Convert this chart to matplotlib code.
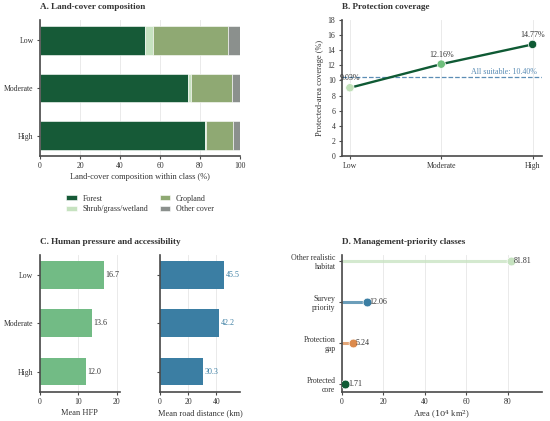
import matplotlib
matplotlib.use("Agg")
import matplotlib.pyplot as plt
import numpy as np

plt.rcParams['font.family'] = ['Liberation Serif', 'DejaVu Serif']
plt.rcParams['text.color'] = '#333333'
plt.rcParams['axes.labelcolor'] = '#333333'
plt.rcParams['xtick.color'] = '#333333'
plt.rcParams['ytick.color'] = '#333333'
plt.rcParams['mathtext.fontset'] = 'dejavuserif'

# ---- data ----
classes = ["Low", "Moderate", "High"]
cover_names = ["Forest", "Shrub/grass/wetland", "Cropland", "Other cover"]
forest = [52.5, 73.9, 82.3]
shrub = [3.9, 1.6, 0.8]
cropland = [37.4, 20.7, 13.4]
other = [6.2, 3.8, 3.5]

coverage = [9.03, 12.16, 14.77]
all_suitable = 10.40

hfp = [16.7, 13.6, 12.0]
road = [45.5, 42.2, 30.3]

mgmt_classes = ["Protected\ncore", "Protection\ngap", "Survey\npriority", "Other realistic\nhabitat"]
mgmt_area = [1.71, 5.24, 12.06, 81.81]
mgmt_labels = ["1.71", "5.24", "12.06", "81.81"]

# ---- styles ----
cover_colors = ["#165a37", "#c6e2c0", "#8fa973", "#8b908d"]
cov_colors = ["#c0e0b8", "#6fbf7c", "#0f5a34"]
hfp_color = "#72bb85"
road_color = "#3b7ea3"
mgmt_colors = ["#0f5a34", "#dc8a4c", "#3b7ea3", "#c6e2c0"]
spine_c = "#4a4a4a"
grid_c = "#e6e6e6"

W, H = 550, 421
fig = plt.figure(figsize=(5.5, 4.21), dpi=100)

def ax_px(l, t, r, b):
    return fig.add_axes([l / W, 1 - b / H, (r - l) / W, (b - t) / H])

def style(ax):
    for s in ["top", "right"]:
        ax.spines[s].set_visible(False)
    for s in ["left", "bottom"]:
        ax.spines[s].set_color(spine_c)
        ax.spines[s].set_linewidth(1.2)
    ax.tick_params(labelsize=5.6, length=2.5, width=0.8, color=spine_c, pad=2)
    ax.set_axisbelow(True)

# ---- Panel A ----
axA = ax_px(40, 20, 240, 156)
style(axA)
y = np.arange(len(classes))
left = np.zeros(len(classes))
for vals, name, c in zip([forest, shrub, cropland, other], cover_names, cover_colors):
    axA.barh(y, vals, left=left, height=0.6, color=c, label=name, edgecolor='white', linewidth=0.4)
    left += np.array(vals)
axA.set_yticks(y)
axA.set_yticklabels(classes)
axA.invert_yaxis()
axA.set_xlim(0, 100)
axA.set_xticks([0, 20, 40, 60, 80, 100])
axA.xaxis.grid(True, color=grid_c, linewidth=0.6)
axA.set_xlabel("Land-cover composition within class (%)", fontsize=6, labelpad=2)
axA.set_title("A. Land-cover composition", fontsize=6.6, fontweight='bold', loc='left', pad=8)
handles, labels = axA.get_legend_handles_labels()
fig.legend(handles, labels, ncol=2, loc='center',
           bbox_to_anchor=(140 / W, 1 - 204 / H), frameon=False, fontsize=5.8,
           handlelength=1.35, handleheight=0.55, handletextpad=0.65,
           columnspacing=1.4, labelspacing=0.35)

# ---- Panel B ----
axB = ax_px(341.7, 20, 541.7, 156)
style(axB)
x = np.arange(len(classes))
axB.plot(x, coverage, color="#0f5a34", linewidth=1.7, zorder=2)
axB.scatter(x, coverage, s=36, c=cov_colors, edgecolors='white', linewidths=0.5, zorder=3)
for xi, v in zip(x, coverage):
    axB.annotate(f"{v:.2f}%", (xi, v), xytext=(0, 4), textcoords='offset points',
                 ha='center', va='bottom', fontsize=5.8)
axB.axhline(all_suitable, color="#5b8db5", linestyle='--', linewidth=0.9, zorder=1)
axB.text(2.05, all_suitable + 0.25, f"All suitable: {all_suitable:.2f}%", ha='right', va='bottom',
         fontsize=5.8, color="#5b8db5")
axB.set_xticks(x)
axB.set_xticklabels(classes)
axB.set_xlim(-0.09, 2.1)
axB.set_ylim(0, 18)
axB.set_yticks(range(0, 19, 2))
axB.xaxis.grid(True, color=grid_c, linewidth=0.6)
axB.set_ylabel("Protected-area coverage (%)", fontsize=6, labelpad=3)
axB.set_title("B. Protection coverage", fontsize=6.6, fontweight='bold', loc='left', pad=8)

# ---- Panel C ----
axC1 = ax_px(39.7, 255, 120, 391.7)
axC2 = ax_px(160, 255, 240, 391.7)
for ax, vals, c, lab, tc, ticks in [(axC1, hfp, hfp_color, "Mean HFP", "#333333", [0, 10, 20]),
                                     (axC2, road, road_color, "Mean road distance (km)", road_color, [0, 20, 40])]:
    style(ax)
    ax.barh(y, vals, height=0.58, color=c)
    ax.set_yticks(y)
    ax.invert_yaxis()
    ax.set_xlim(0, max(vals) * 1.25)
    ax.set_xticks(ticks)
    ax.xaxis.grid(True, color=grid_c, linewidth=0.6)
    ax.set_xlabel(lab, fontsize=6, labelpad=2)
    for yi, v in zip(y, vals):
        ax.text(v + max(vals) * 0.025, yi, f"{v:.1f}", va='center', ha='left', fontsize=5.8, color=tc)
axC1.set_yticklabels(classes)
axC2.set_yticklabels([])
axC1.set_title("C. Human pressure and accessibility", fontsize=6.6, fontweight='bold', loc='left', pad=8)

# ---- Panel D ----
axD = ax_px(341.7, 255, 541.7, 391.7)
style(axD)
yd = np.arange(len(mgmt_classes))
for yi, v, c, lab in zip(yd, mgmt_area, mgmt_colors, mgmt_labels):
    axD.hlines(yi, 0, v, color=c, linewidth=2.2, alpha=0.75, zorder=2)
    axD.scatter([v], [yi], s=40, color=c, edgecolors='white', linewidths=0.5, zorder=3)
    axD.text(v + 1.3, yi, lab, va='center', ha='left', fontsize=5.8, zorder=4)
axD.set_yticks(yd)
axD.set_yticklabels(mgmt_classes, fontsize=5.6, linespacing=1.2)
axD.set_ylim(-0.18, 3.14)
axD.set_xlim(0, 96.5)
axD.set_xticks([0, 20, 40, 60, 80])
axD.xaxis.grid(True, color=grid_c, linewidth=0.6)
axD.set_xlabel(r"Area ($10^4$ km$^2$)", fontsize=6, labelpad=2)
axD.set_title("D. Management-priority classes", fontsize=6.6, fontweight='bold', loc='left', pad=8)

fig.savefig("out.png", dpi=100, facecolor='white')
